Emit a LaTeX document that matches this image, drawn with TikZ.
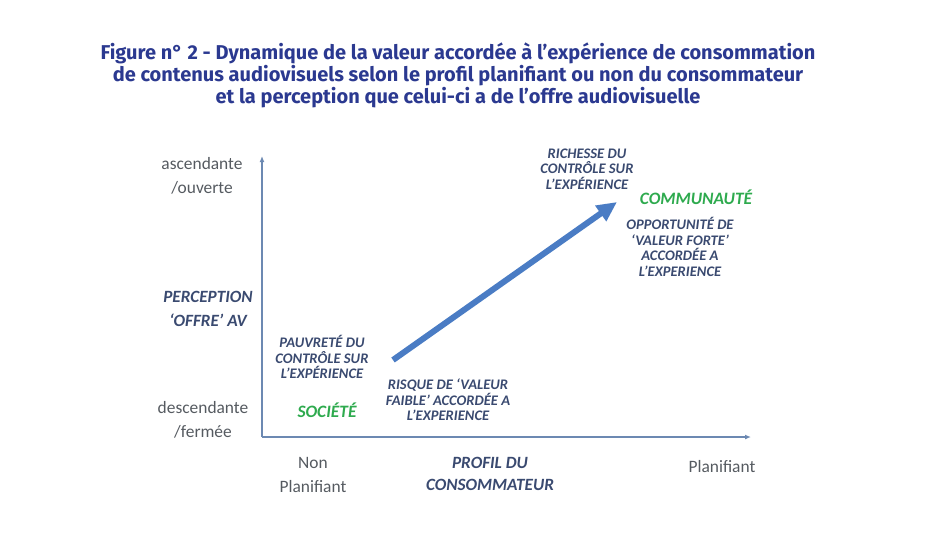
\documentclass[tikz,border=0pt]{standalone}
\usepackage{fontspec}
\setmainfont{Carlito}
\newfontfamily\titlefont{Fira Sans}
\usetikzlibrary{positioning,arrows.meta}

\definecolor{titleblue}{HTML}{2B3990}
\definecolor{labelblue}{HTML}{3A4A70}
\definecolor{axisblue}{HTML}{6C89B2}
\definecolor{arrowblue}{HTML}{4A7CC4}
\definecolor{txtgray}{HTML}{555A60}
\definecolor{groupgreen}{HTML}{2EAA4E}

\begin{document}
\begin{tikzpicture}[x=0.5pt, y=-0.5pt,
	lab/.style={align=center, text=labelblue, font=\fontsize{7.3}{7.8}\selectfont\bfseries\itshape},
	big/.style={align=center, text=labelblue, font=\fontsize{8.6}{12}\selectfont\bfseries\itshape},
	grp/.style={text=groupgreen, font=\fontsize{8.7}{9}\selectfont\bfseries\itshape},
	val/.style={align=center, text=txtgray, font=\fontsize{8.7}{12.3}\selectfont}]
	\useasboundingbox (0,0) rectangle (943,552);

	\node[align=center, text=titleblue, font=\titlefont\bfseries\fontsize{10}{11}\selectfont] (title) at (458,75)
		{Figure n° 2 - Dynamique de la valeur accordée à l’expérience de consommation\\
		de contenus audiovisuels selon le profil planifiant ou non du consommateur\\
		et la perception que celui-ci a de l’offre audiovisuelle};

	\coordinate (o) at (262,437);
	\coordinate (ytop) at (262,156);
	\coordinate (xend) at (751,437);
	\coordinate (a0) at (393,360);
	\coordinate (a1) at (617,202);

	\draw[axisblue, line width=0.6pt, -{Latex[length=3pt,width=2.5pt]}] (o) -- (ytop);
	\draw[axisblue, line width=0.6pt, -{Latex[length=3pt,width=2.5pt]}] (o) -- (xend);
	\draw[arrowblue, line width=3pt, -{Triangle[length=10pt,width=9pt]}] (a0) -- (a1);

	\node[val] (haut) at (202,176) {ascendante\\/ouverte};
	\node[big] (perc) at (208,309) {PERCEPTION\\‘OFFRE’ AV};
	\node[val] (bas) at (203,420) {descendante\\/fermée};

	\node[lab] (pauv) at (322,357) {PAUVRETÉ DU\\CONTRÔLE SUR\\L’EXPÉRIENCE};
	\node[grp] (soc) at (327,410) {SOCIÉTÉ};
	\node[lab] (risq) at (448,400) {RISQUE DE ‘VALEUR\\FAIBLE’ ACCORDÉE A\\L’EXPERIENCE};

	\node[lab] (rich) at (587,169) {RICHESSE DU\\CONTRÔLE SUR\\L’EXPÉRIENCE};
	\node[grp] (comm) at (696,197) {COMMUNAUTÉ};
	\node[lab] (opp) at (680,247) {OPPORTUNITÉ DE\\‘VALEUR FORTE’\\ACCORDÉE A\\L’EXPERIENCE};

	\node[val] (nonp) at (313,475) {Non\\Planifiant};
	\node[big, font=\fontsize{8.6}{11}\selectfont\bfseries\itshape] (prof) at (490,474) {PROFIL DU\\CONSOMMATEUR};
	\node[val] (plan) at (722,467) {Planifiant};
\end{tikzpicture}
\end{document}
